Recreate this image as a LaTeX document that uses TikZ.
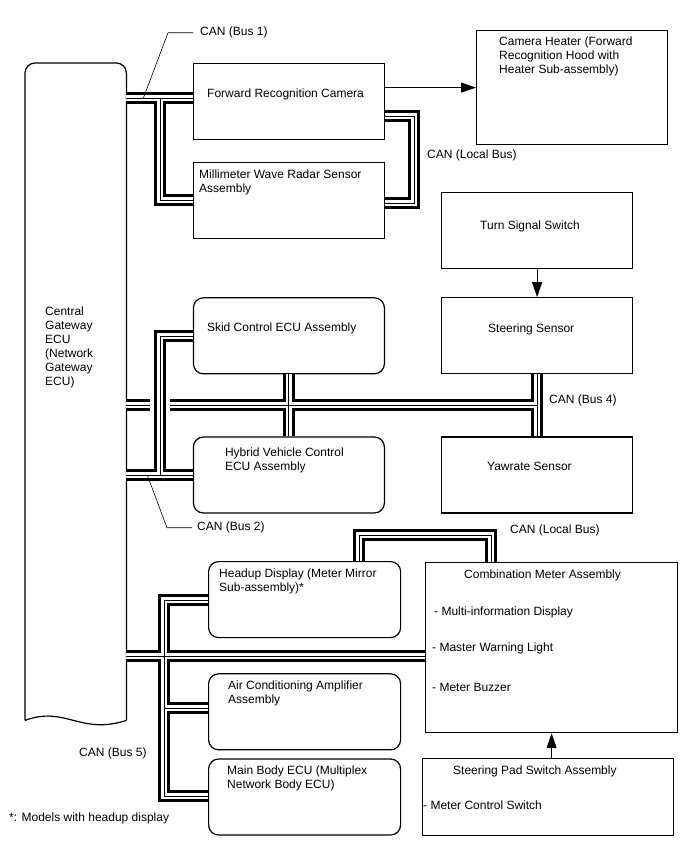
\documentclass[tikz,border=0pt]{standalone}
\usepackage{fontspec}
\setmainfont{Liberation Sans}
\usetikzlibrary{arrows.meta, positioning, calc}

\begin{document}
\begin{tikzpicture}[
    x=1pt, y=-1pt,
    font=\fontsize{12}{14}\selectfont,
    unit/.style={rectangle, draw, line width=1.2pt, minimum width=191pt, minimum height=76pt, inner sep=0pt},
    ecu/.style={unit, rounded corners=10pt},
    txt/.style={inner sep=0pt, align=left, anchor=north west},
    busout/.style={line width=12pt},
    busgap/.style={line width=6pt, white},
    buscore/.style={line width=1pt},
    bridge/.style={line width=20pt, white},
    arr/.style={draw, line width=1pt, -{Triangle[length=15pt, width=10pt]}},
    leader/.style={draw, line width=0.6pt}
]
\useasboundingbox (0,0) rectangle (688,852);

% gateway
\node [minimum width=101pt, minimum height=657pt, inner sep=0pt, anchor=north west] (gw) at (25,63) {};
\draw [line width=1.2pt, rounded corners=10pt] (gw.south west) -- (gw.north west) -- (gw.north east) -- (gw.south east);
\draw [line width=1.2pt] (gw.south east) .. controls +(-46,15) and +(40,-15) .. (gw.south west);
\node [txt, below right=244pt and 20pt of gw.north west] (gw-t) {Central\\Gateway\\ECU\\(Network\\Gateway\\ECU)};

% bus 1 units
\node [unit, anchor=north west] (cam) at (193,63) {};
\node [unit, below=22pt of cam] (mm) {};
\node [unit, minimum height=114pt, anchor=north west] (heater) at (476,30) {};
\node [txt, below right=26pt and 14pt of cam.north west] (cam-t) {Forward Recognition Camera};
\node [txt, below right=7pt and 6pt of mm.north west] (mm-t) {Millimeter Wave Radar Sensor\\Assembly};
\node [txt, below right=7pt and 23pt of heater.north west] (heater-t) {Camera Heater (Forward\\Recognition Hood with\\Heater Sub-assembly)};

% bus 2 and bus 4 units
\node [unit, anchor=north west] (turn) at (441,192) {};
\node [unit, below=28pt of turn] (steer) {};
\node [unit, below=62pt of steer] (yaw) {};
\node [ecu, left=56pt of steer] (skid) {};
\node [ecu, left=56pt of yaw] (hybrid) {};
\node [txt, below right=29pt and 39pt of turn.north west] (turn-t) {Turn Signal Switch};
\node [txt, below right=26pt and 47pt of steer.north west] (steer-t) {Steering Sensor};
\node [txt, below right=26pt and 46pt of yaw.north west] (yaw-t) {Yawrate Sensor};
\node [txt, below right=25pt and 14pt of skid.north west] (skid-t) {Skid Control ECU Assembly};
\node [txt, below right=11pt and 32pt of hybrid.north west] (hybrid-t) {Hybrid Vehicle Control\\ECU Assembly};

% bus 5 units
\node [ecu, minimum width=192pt, anchor=north west] (headup) at (208,561) {};
\node [ecu, minimum width=192pt, below=35pt of headup] (aircon) {};
\node [ecu, minimum width=192pt, below=8pt of aircon] (body) {};
\node [unit, minimum width=252pt, minimum height=170pt, anchor=north west] (combo) at (425,562) {};
\node [unit, minimum width=251pt, minimum height=77pt, anchor=north west] (pad) at (422,758) {};
\node [txt, below right=8pt and 11pt of headup.north west] (headup-t) {Headup Display (Meter Mirror\\Sub-assembly)*};
\node [txt, below right=7pt and 20pt of aircon.north west] (aircon-t) {Air Conditioning Amplifier\\Assembly};
\node [txt, below right=7pt and 19pt of body.north west] (body-t) {Main Body ECU (Multiplex\\Network Body ECU)};
\node [txt, below right=8pt and 39pt of combo.north west] (combo-t) {Combination Meter Assembly};
\node [txt, below right=45pt and 9pt of combo.north west] (combo-a) {- Multi-information Display};
\node [txt, below right=81pt and 7pt of combo.north west] (combo-b) {- Master Warning Light};
\node [txt, below right=121pt and 7pt of combo.north west] (combo-c) {- Meter Buzzer};
\node [txt, below right=8pt and 31pt of pad.north west] (pad-t) {Steering Pad Switch Assembly};
\node [txt, below right=43pt and 1pt of pad.north west] (pad-a) {- Meter Control Switch};

% labels
\node [txt] (bus1-l) at (200,27) {CAN (Bus 1)};
\node [txt] (local1-l) at (427,150) {CAN (Local Bus)};
\node [txt] (bus4-l) at (549,395) {CAN (Bus 4)};
\node [txt] (bus2-l) at (197,522) {CAN (Bus 2)};
\node [txt] (local2-l) at (510,525) {CAN (Local Bus)};
\node [txt] (bus5-l) at (79,748) {CAN (Bus 5)};
\node [txt] (note) at (9,813) {*: Models with headup display};

% bus end points
\coordinate (c1a) at ($(cam.north west)+(0,35)$);
\coordinate (c1b) at ($(mm.north west)+(0,38)$);
\coordinate (v1) at ($(gw.east |- c1a)+(34,0)$);
\coordinate (l1a) at ($(cam.north east)+(0,53)$);
\coordinate (l1b) at ($(mm.north east)+(0,41)$);
\coordinate (j4) at ($(steer.south)!0.5!(yaw.north)$);
\coordinate (b2a) at ($(hybrid.north west)+(0,39)$);
\coordinate (b2b) at ($(skid.north west)+(0,39)$);
\coordinate (v2) at ($(gw.east |- b2a)+(34,0)$);
\coordinate (b5a) at ($(combo.north west)+(0,94)$);
\coordinate (v5) at ($(gw.east |- b5a)+(38,0)$);
\coordinate (h5a) at ($(headup.north west)+(0,39)$);
\coordinate (a5a) at ($(aircon.north west)+(0,35)$);
\coordinate (m5a) at ($(body.north west)+(0,38)$);
\coordinate (l2a) at ($(headup.north west)+(151,0)$);
\coordinate (l2b) at ($(combo.north west)+(66,0)$);

% buses in three layers, so the joints merge
\foreach \l in {busout, busgap, buscore} {
  \draw [\l] (gw.east |- c1a) -- (c1a);
  \draw [\l] (v1) |- (c1b);
  \draw [\l] (l1a) -- ++(29,0) |- (l1b);
  \draw [\l] (gw.east |- j4) -- (j4);
  \draw [\l] (steer.south) -- (yaw.north);
  \draw [\l] (skid.south) -- (hybrid.north);
  \draw [\l] (gw.east |- b5a) -- (b5a);
  \draw [\l] (h5a) -| (v5 |- m5a) -- (m5a);
  \draw [\l] (v5 |- a5a) -- (a5a);
  \draw [\l] (l2a) -- ++(0,-26) -| (l2b);
}
% bus 2 passes over bus 4
\draw [bridge] ($(v2 |- j4)+(0,-12)$) -- ($(v2 |- j4)+(0,12)$);
\foreach \l in {busout, busgap, buscore} {
  \draw [\l] (gw.east |- b2a) -- (b2a);
  \draw [\l] (v2) |- (b2b);
}

% leaders
\coordinate (t1) at ($(gw.east |- c1a)+(17,0)$);
\coordinate (t2) at ($(gw.east |- b2a)+(21,0)$);
\draw [leader] ([xshift=-7pt]bus1-l.west) -- ++(-25,0) -- (t1);
\draw [leader] ([xshift=-5pt]bus2-l.west) -- ++(-25,0) -- (t2);

% arrows
\draw [arr] (cam.east |- heater.west) -- (heater.west);
\draw [arr] (turn) -- (steer);
\draw [arr] (pad.north -| combo.south) -- (combo.south);

\end{tikzpicture}
\end{document}
